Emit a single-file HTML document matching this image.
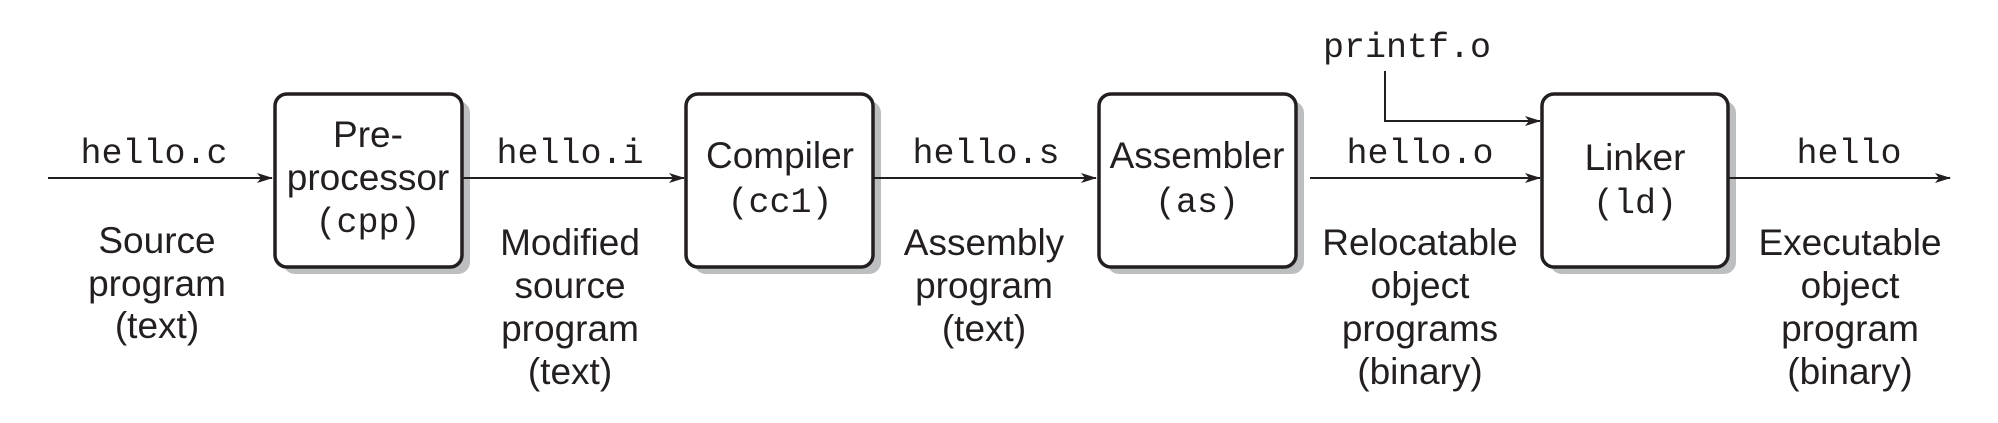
<!DOCTYPE html>
<html><head><style>
html,body{margin:0;padding:0;background:#fff;}
svg{display:block}
.s{font-family:"Liberation Sans",sans-serif;font-size:37px;fill:#231f20;text-anchor:middle}
.m{font-family:"Liberation Mono",monospace;font-size:35px;fill:#231f20;text-anchor:middle}
</style></head><body>
<svg width="1998" height="423" viewBox="0 0 1998 423" xmlns="http://www.w3.org/2000/svg">
<defs><marker id="a" markerWidth="16" markerHeight="10" refX="15" refY="5" orient="auto" markerUnits="userSpaceOnUse"><path d="M0,0 L16,5 L0,10 L4,5 Z" fill="#231f20"/></marker></defs>
<g fill="#bcbec0">
<rect x="283" y="101" width="187" height="173" rx="12"/>
<rect x="694" y="101" width="187" height="173" rx="12"/>
<rect x="1107" y="101" width="197" height="173" rx="12"/>
<rect x="1550" y="101" width="186" height="173" rx="12"/>
</g>
<g fill="#fff" stroke="#231f20" stroke-width="3.5">
<rect x="275" y="94" width="187" height="173" rx="12"/>
<rect x="686" y="94" width="187" height="173" rx="12"/>
<rect x="1099" y="94" width="197" height="173" rx="12"/>
<rect x="1542" y="94" width="186" height="173" rx="12"/>
</g>
<g stroke="#231f20" stroke-width="2" fill="none" marker-end="url(#a)">
<line x1="48" y1="178" x2="272" y2="178"/>
<line x1="462" y1="178" x2="684" y2="178"/>
<line x1="873" y1="178" x2="1096" y2="178"/>
<line x1="1310" y1="178" x2="1540" y2="178"/>
<line x1="1728" y1="178" x2="1950" y2="178"/>
<polyline points="1385,71 1385,121 1540,121"/>
</g>
<text class="m" x="154" y="163">hello.c</text>
<text class="m" x="570" y="163">hello.i</text>
<text class="m" x="986" y="163">hello.s</text>
<text class="m" x="1420" y="163">hello.o</text>
<text class="m" x="1849" y="163">hello</text>
<text class="m" x="1407" y="57">printf.o</text>
<text class="s" x="368" y="147">Pre-</text>
<text class="s" x="368" y="190">processor</text>
<text class="m" x="368" y="232">(cpp)</text>
<text class="s" x="780" y="168">Compiler</text>
<text class="m" x="780" y="212">(cc1)</text>
<text class="s" x="1197" y="168">Assembler</text>
<text class="m" x="1197" y="212">(as)</text>
<text class="s" x="1635" y="170">Linker</text>
<text class="m" x="1635" y="213">(ld)</text>
<text class="s" x="157" y="253">Source</text>
<text class="s" x="157" y="296">program</text>
<text class="s" x="157" y="338">(text)</text>
<text class="s" x="570" y="255">Modified</text>
<text class="s" x="570" y="298">source</text>
<text class="s" x="570" y="341">program</text>
<text class="s" x="570" y="384">(text)</text>
<text class="s" x="984" y="255">Assembly</text>
<text class="s" x="984" y="298">program</text>
<text class="s" x="984" y="341">(text)</text>
<text class="s" x="1420" y="255">Relocatable</text>
<text class="s" x="1420" y="298">object</text>
<text class="s" x="1420" y="341">programs</text>
<text class="s" x="1420" y="384">(binary)</text>
<text class="s" x="1850" y="255">Executable</text>
<text class="s" x="1850" y="298">object</text>
<text class="s" x="1850" y="341">program</text>
<text class="s" x="1850" y="384">(binary)</text>
</svg>
</body></html>
